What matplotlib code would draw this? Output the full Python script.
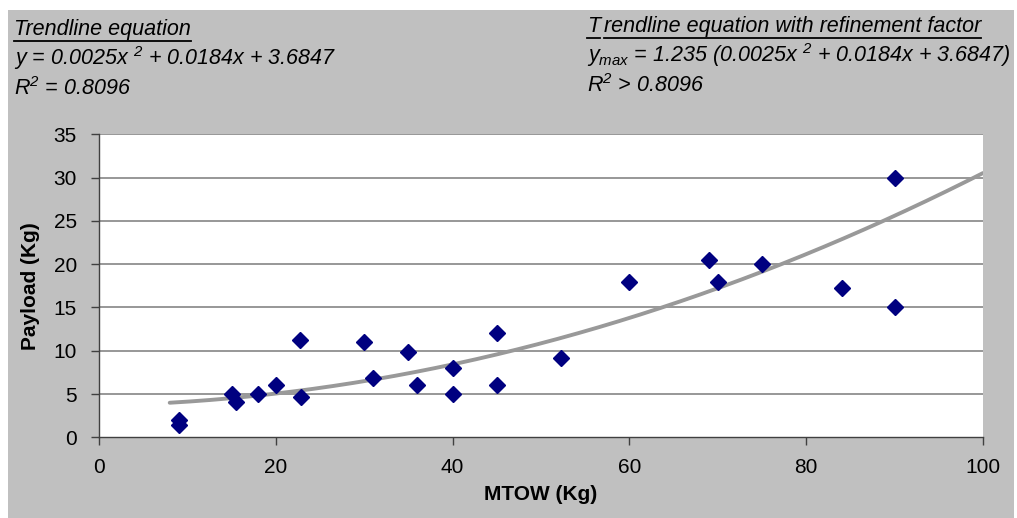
import numpy as np
import matplotlib
matplotlib.use("Agg")
import matplotlib.pyplot as plt
from matplotlib.patches import Rectangle
from matplotlib.lines import Line2D

plt.rcParams['font.family'] = ['Liberation Sans', 'DejaVu Sans']
plt.rcParams['mathtext.fontset'] = 'custom'
plt.rcParams['mathtext.rm'] = 'Liberation Sans:italic'
plt.rcParams['mathtext.it'] = 'Liberation Sans:italic'
plt.rcParams['mathtext.bf'] = 'Liberation Sans:bold'

# ---- data ----
mtow = [9, 9, 15, 15.5, 18, 20, 22.7, 22.8, 30, 31, 35, 36, 40, 40, 45, 45,
        52.3, 60, 69, 70, 75, 84, 90, 90]
payload = [2, 1.4, 5, 4.1, 5, 6, 11.2, 4.6, 11, 6.9, 9.9, 6, 8, 5, 12, 6,
           9.2, 17.9, 20.5, 17.9, 20, 17.2, 30, 15]
trend_coeffs = [0.0025, 0.0184, 3.6847]
trend_range = [8, 100]
x_ticks = [0, 20, 40, 60, 80, 100]
y_ticks = [0, 5, 10, 15, 20, 25, 30, 35]

W, H = 1017, 518
fig = plt.figure(figsize=(W / 100, H / 100), dpi=100, facecolor='white')

# grey chart area
fig.patches.append(Rectangle((8 / W, 0), (1014 - 8) / W, (H - 10) / H,
                             transform=fig.transFigure, facecolor='#c0c0c0',
                             edgecolor='none', zorder=-10))

ax = fig.add_axes([99 / W, 1 - 437.3 / H, (983 - 99) / W, (437.3 - 134.3) / H])
ax.set_facecolor('white')
ax.set_xlim(0, 100)
ax.set_ylim(0, 35)

for v in y_ticks[1:]:
    ax.axhline(v, color='#7a7a7a', lw=1.1, zorder=1)

xt = np.linspace(trend_range[0], trend_range[1], 200)
ax.plot(xt, np.polyval(trend_coeffs, xt), color='#999999', lw=2.8,
        solid_capstyle='round', zorder=2)
ax.plot(mtow, payload, linestyle='none', marker='D', markersize=7.8,
        color='#000080', markeredgecolor='#000080', zorder=3)

for s in ['top', 'right']:
    ax.spines[s].set_visible(False)
for s in ['left', 'bottom']:
    ax.spines[s].set_color('#404040')
    ax.spines[s].set_linewidth(1.0)

ax.set_xticks(x_ticks)
ax.set_yticks(y_ticks)
ax.tick_params(axis='both', direction='out', length=6, width=1.0,
               color='#404040', labelsize=15, labelcolor='black')
ax.tick_params(axis='x', pad=9)
ax.tick_params(axis='y', pad=10)

ax.set_xlabel('MTOW (Kg)', fontsize=15, fontweight='bold', labelpad=6)
ax.set_ylabel('Payload (Kg)', fontsize=15, fontweight='bold', labelpad=10)

# annotations
fs = 15.5
kw = dict(fontsize=fs, style='italic', color='black', transform=fig.transFigure,
          va='baseline', ha='left')
t1 = fig.text(14 / W, 1 - 35 / H, 'Trendline equation', **kw)
fig.text(14 / W, 1 - 65 / H, 'y = 0.0025x $^{2}$ + 0.0184x + 3.6847', **kw)
fig.text(14 / W, 1 - 95 / H, 'R$^{2}$ = 0.8096', **kw)

t2 = fig.text(587 / W, 1 - 32 / H, 'T', **kw)
fig.canvas.draw()
r = fig.canvas.get_renderer()
bb = t2.get_window_extent(r)
t3 = fig.text((bb.x1 + 4) / W, 1 - 32 / H, 'rendline equation with refinement factor', **kw)
fig.text(587 / W, 1 - 62 / H, '$y_{max}$ = 1.235 (0.0025x $^{2}$ + 0.0184x + 3.6847)', **kw)
fig.text(587 / W, 1 - 92 / H, 'R$^{2}$ > 0.8096', **kw)

fig.canvas.draw()
for t, ybase in [(t1, 35), (t2, 32), (t3, 32)]:
    b = t.get_window_extent(r)
    yy = 1 - (ybase + 6) / H
    fig.add_artist(Line2D([b.x0 / W, b.x1 / W], [yy, yy], color='black', lw=1.3,
                          transform=fig.transFigure))

fig.savefig('out.png', dpi=100, facecolor='white')
